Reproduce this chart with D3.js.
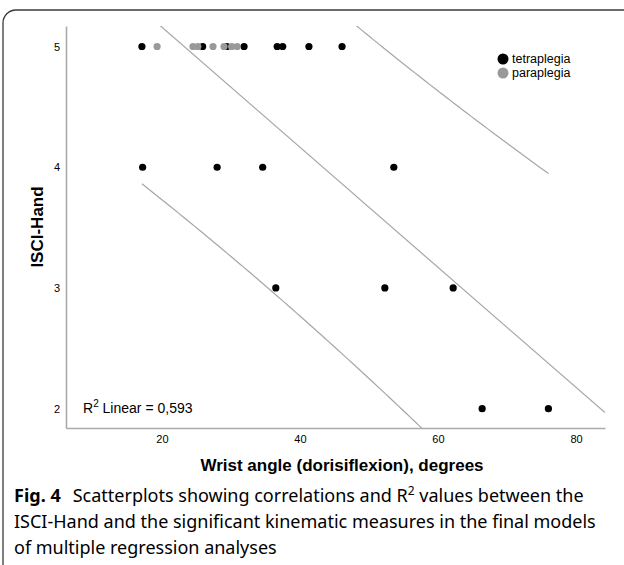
<!DOCTYPE html>
<html>
<head>
<meta charset="utf-8">
<script src="https://cdn.jsdelivr.net/npm/d3@7"></script>
<style>
  body { margin: 0; background: #fff; }
  svg { display: block; font-family: "Liberation Sans", Arial, sans-serif; }
</style>
</head>
<body>
<script>
// wrist angle (degrees) per ISCI-Hand score
var tetraX = [17.1, 25.9, 29.4, 31.9, 36.7, 37.5, 41.3, 46.1,
              17.2, 28.0, 34.6, 53.6,
              36.5, 52.3, 62.2,
              66.4, 76.0];
var tetraY = [5, 5, 5, 5, 5, 5, 5, 5,
              4, 4, 4, 4,
              3, 3, 3,
              2, 2];
var paraX = [19.3, 24.5, 25.2, 27.4, 29.0, 30.1, 30.9];
var paraY = [5, 5, 5, 5, 5, 5, 5];

var xTicks = [20, 40, 60, 80];
var yTicks = [2, 3, 4, 5];
var groups = ["tetraplegia", "paraplegia"];
var groupColors = ["#000000", "#999999"];
var r2Text = "0,593";
var T95 = 2.074; // t(0.975, df = 22)

var width = 624, height = 565;
var plot = {left: 66, right: 605, top: 26, bottom: 428};

var svg = d3.select("body").append("svg")
    .attr("width", width)
    .attr("height", height);

// rounded figure frame
svg.append("rect")
    .attr("x", 3).attr("y", 10)
    .attr("width", 660).attr("height", 620)
    .attr("rx", 13)
    .style("fill", "none")
    .style("stroke", "#3a3a3a")
    .style("stroke-width", 1.3);

var x = d3.scaleLinear().domain([6.1, 84.2]).range([plot.left, plot.right]);
var y = d3.scaleLinear().domain([1.84, 5.17]).range([plot.bottom, plot.top]);

// all points together for the regression
var allX = tetraX.concat(paraX), allY = tetraY.concat(paraY);
var n = allX.length;
var xbar = d3.mean(allX), ybar = d3.mean(allY);
var sxx = d3.sum(allX, function(v) { return (v - xbar) * (v - xbar); });
var sxy = d3.sum(allX, function(v, i) { return (v - xbar) * (allY[i] - ybar); });
var b = sxy / sxx, a = ybar - b * xbar;
var ssRes = d3.sum(allX, function(v, i) { var e = allY[i] - (a + b * v); return e * e; });
var s = Math.sqrt(ssRes / (n - 2));

function fit(v) { return a + b * v; }
// half width of the 95% interval for individual values
function half(v) { return T95 * s * Math.sqrt(1 + 1 / n + (v - xbar) * (v - xbar) / sxx); }

svg.append("clipPath").attr("id", "plotclip")
    .append("rect")
    .attr("x", plot.left).attr("y", plot.top)
    .attr("width", plot.right - plot.left).attr("height", plot.bottom - plot.top);

var g = svg.append("g").attr("clip-path", "url(#plotclip)");

var line = d3.line()
    .x(function(d) { return x(d[0]); })
    .y(function(d) { return y(d[1]); });

var xLo = d3.min(allX), xHi = d3.max(allX);
var fitPts = x.domain().map(function(v) { return [v, fit(v)]; });
var upPts = d3.range(0, 101).map(function(k) {
    var v = xLo + (xHi - xLo) * k / 100; return [v, fit(v) + half(v)]; });
var loPts = d3.range(0, 101).map(function(k) {
    var v = xLo + (xHi - xLo) * k / 100; return [v, fit(v) - half(v)]; });

[fitPts, upPts, loPts].forEach(function(p) {
    g.append("path")
        .attr("d", line(p))
        .style("fill", "none")
        .style("stroke", "#a6a6a6")
        .style("stroke-width", 1.2);
});

// axes, no tick marks
var xAxis = svg.append("g")
    .attr("transform", "translate(0," + plot.bottom + ")")
    .call(d3.axisBottom(x).tickValues(xTicks).tickFormat(d3.format("d"))
        .tickSize(0).tickPadding(7));
var yAxis = svg.append("g")
    .attr("transform", "translate(" + plot.left + ",0)")
    .call(d3.axisLeft(y).tickValues(yTicks).tickFormat(d3.format("d"))
        .tickSize(0).tickPadding(6));
[xAxis, yAxis].forEach(function(ax) {
    ax.select(".domain").style("stroke", "#aaaaaa").style("stroke-width", 1.6);
    ax.selectAll("text").style("font-size", "11px").style("fill", "#000")
        .style("font-family", "Liberation Sans, Arial, sans-serif");
});

// points: tetraplegia first, paraplegia on top
var ptsG = svg.append("g");
ptsG.selectAll(".tetra")
    .data(tetraX)
    .enter().append("circle")
    .attr("class", "tetra")
    .attr("cx", function(d) { return x(d); })
    .attr("cy", function(d, i) { return y(tetraY[i]); })
    .attr("r", 3.6)
    .style("fill", groupColors[0]);
ptsG.selectAll(".para")
    .data(paraX)
    .enter().append("circle")
    .attr("class", "para")
    .attr("cx", function(d) { return x(d); })
    .attr("cy", function(d, i) { return y(paraY[i]); })
    .attr("r", 3.6)
    .style("fill", groupColors[1]);

// legend
var leg = svg.append("g").attr("transform", "translate(503,59)");
groups.forEach(function(name, i) {
    leg.append("circle")
        .attr("cx", 0).attr("cy", i * 14)
        .attr("r", 5.5)
        .style("fill", groupColors[i]);
    leg.append("text")
        .attr("x", 9).attr("y", i * 14)
        .attr("dy", "0.35em")
        .style("font-family", "'Liberation Sans Narrow', 'Arial Narrow', 'Liberation Sans', sans-serif")
        .style("font-size", "12.5px")
        .text(name);
});

// R squared note
var r2 = svg.append("text")
    .attr("x", 83).attr("y", 413)
    .style("font-size", "14px");
r2.append("tspan").text("R");
r2.append("tspan").attr("dy", -6).style("font-size", "10px").text("2");
r2.append("tspan").attr("dy", 6).text(" Linear = " + r2Text);

// axis titles
svg.append("text")
    .attr("x", 342).attr("y", 471)
    .attr("text-anchor", "middle")
    .style("font-weight", "bold")
    .style("font-size", "17px")
    .text("Wrist angle (dorisiflexion), degrees");

svg.append("text")
    .attr("transform", "translate(43,227) rotate(-90)")
    .attr("text-anchor", "middle")
    .style("font-weight", "bold")
    .style("font-size", "17px")
    .text("ISCI-Hand");

// caption
var capFont = "'Noto Sans', 'Open Sans', sans-serif";
var c1 = svg.append("text")
    .attr("x", 14).attr("y", 502)
    .style("font-family", capFont)
    .style("font-size", "18px");
c1.append("tspan").style("font-weight", "bold").text("Fig. 4");
c1.append("tspan").attr("dx", 12).text("Scatterplots showing correlations and R");
c1.append("tspan").attr("dy", -7).style("font-size", "12px").text("2");
c1.append("tspan").attr("dy", 7).text(" values between the");

svg.append("text")
    .attr("x", 14).attr("y", 528)
    .style("font-family", capFont)
    .style("font-size", "18px")
    .text("ISCI-Hand and the significant kinematic measures in the final models");

svg.append("text")
    .attr("x", 14).attr("y", 554)
    .style("font-family", capFont)
    .style("font-size", "18px")
    .text("of multiple regression analyses");
</script>
</body>
</html>
